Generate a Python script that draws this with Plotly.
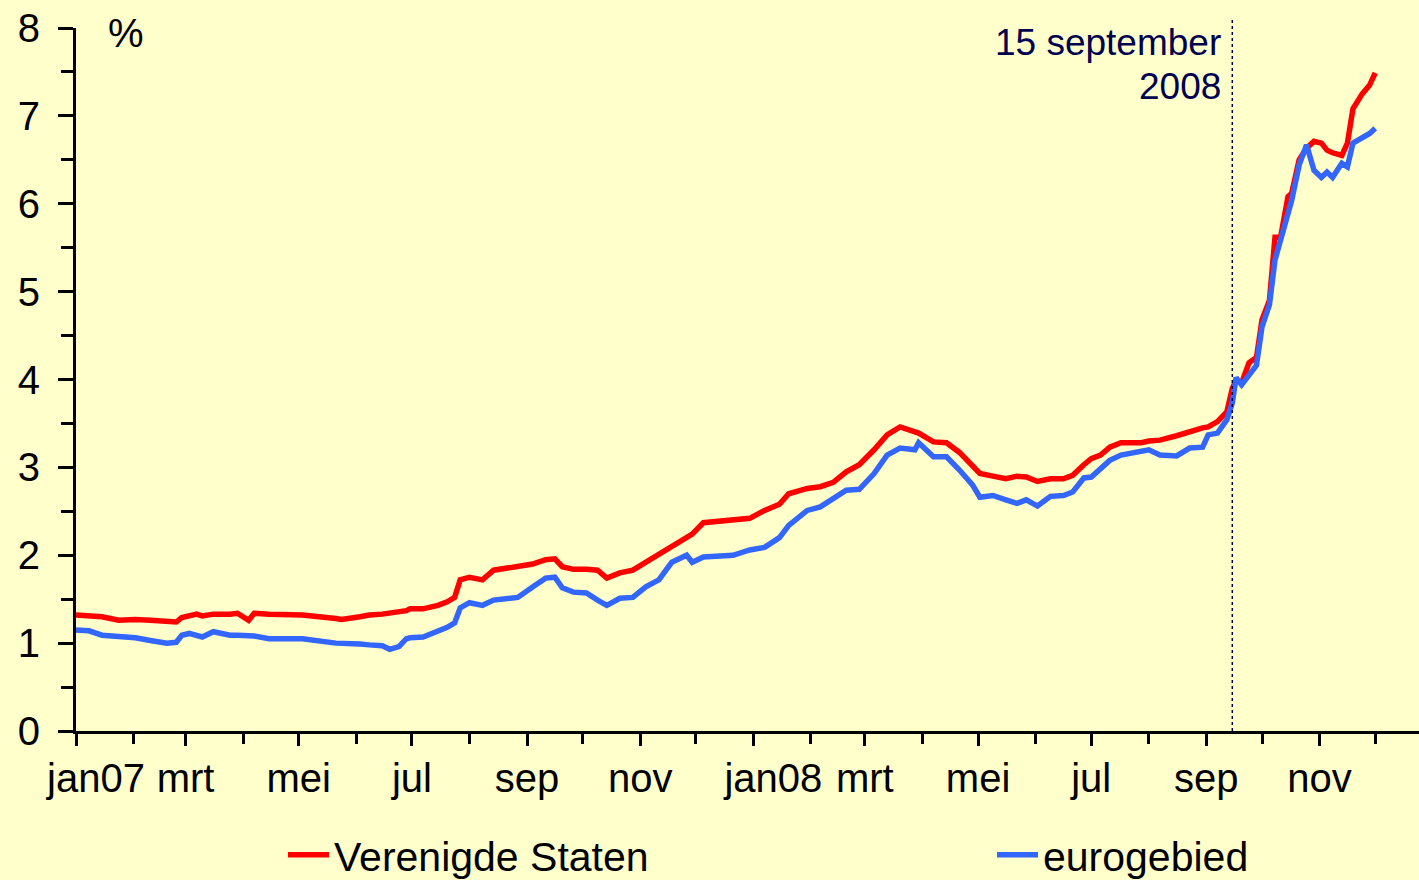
import plotly.graph_objects as go

dates = [
    "2007-01-01", "2007-01-08", "2007-01-15", "2007-01-24", "2007-02-02", "2007-02-10",
    "2007-02-19", "2007-02-24", "2007-02-27", "2007-03-03", "2007-03-07", "2007-03-10",
    "2007-03-16", "2007-03-25", "2007-03-29", "2007-04-04", "2007-04-07", "2007-04-15",
    "2007-05-03", "2007-05-21", "2007-05-24", "2007-06-03", "2007-06-08", "2007-06-15",
    "2007-06-19", "2007-06-24", "2007-06-28", "2007-06-30", "2007-07-07", "2007-07-15",
    "2007-07-20", "2007-07-24", "2007-07-27", "2007-08-01", "2007-08-08", "2007-08-14",
    "2007-08-27", "2007-09-04", "2007-09-11", "2007-09-16", "2007-09-20", "2007-09-26",
    "2007-10-03", "2007-10-09", "2007-10-14", "2007-10-21", "2007-10-28", "2007-11-04",
    "2007-11-11", "2007-11-18", "2007-11-26", "2007-11-29", "2007-12-05", "2007-12-21",
    "2007-12-30", "2008-01-07", "2008-01-15", "2008-01-20", "2008-01-30", "2008-02-06",
    "2008-02-13", "2008-02-20", "2008-02-27", "2008-03-06", "2008-03-13", "2008-03-20",
    "2008-03-28", "2008-03-30", "2008-04-07", "2008-04-14", "2008-04-21", "2008-04-28",
    "2008-05-02", "2008-05-09", "2008-05-16", "2008-05-22", "2008-05-27", "2008-06-02",
    "2008-06-09", "2008-06-16", "2008-06-21", "2008-06-27", "2008-07-01", "2008-07-06",
    "2008-07-11", "2008-07-17", "2008-07-22", "2008-07-28", "2008-08-01", "2008-08-07",
    "2008-08-16", "2008-08-23", "2008-08-30", "2008-09-02", "2008-09-07", "2008-09-12",
    "2008-09-15", "2008-09-17", "2008-09-20", "2008-09-24", "2008-09-28", "2008-10-01",
    "2008-10-05", "2008-10-08", "2008-10-11", "2008-10-15", "2008-10-17", "2008-10-21",
    "2008-10-25", "2008-10-29", "2008-11-02", "2008-11-05", "2008-11-08", "2008-11-13",
    "2008-11-16", "2008-11-19", "2008-11-24", "2008-11-28", "2008-12-01",
]

us_values = [
    1.32, 1.31, 1.30, 1.26, 1.27, 1.26,
    1.25, 1.24, 1.29, 1.31, 1.33, 1.31,
    1.33, 1.33, 1.34, 1.26, 1.34, 1.33,
    1.32, 1.28, 1.27, 1.30, 1.32, 1.33,
    1.34, 1.35, 1.37, 1.39, 1.39, 1.43,
    1.47, 1.52, 1.72, 1.75, 1.72, 1.83,
    1.87, 1.90, 1.95, 1.96, 1.87, 1.84,
    1.84, 1.83, 1.74, 1.80, 1.83, 1.92,
    2.00, 2.09, 2.20, 2.24, 2.37, 2.40,
    2.42, 2.51, 2.58, 2.70, 2.76, 2.78,
    2.83, 2.95, 3.03, 3.20, 3.37, 3.46,
    3.40, 3.39, 3.29, 3.28, 3.17, 3.03,
    2.93, 2.90, 2.87, 2.90, 2.89, 2.84,
    2.87, 2.87, 2.91, 3.03, 3.10, 3.14,
    3.23, 3.28, 3.28, 3.28, 3.30, 3.31,
    3.36, 3.41, 3.45, 3.46, 3.52, 3.63,
    3.90, 3.99, 3.96, 4.19, 4.25, 4.68,
    4.90, 5.62, 5.62, 6.08, 6.12, 6.50,
    6.63, 6.71, 6.69, 6.61, 6.58, 6.55,
    6.69, 7.08, 7.25, 7.35, 7.49,
]

ez_values = [
    1.15, 1.14, 1.09, 1.08, 1.06, 1.03,
    1.00, 1.01, 1.09, 1.11, 1.09, 1.07,
    1.13, 1.09, 1.09, 1.08, 1.08, 1.05,
    1.05, 1.00, 1.00, 0.99, 0.98, 0.97,
    0.93, 0.96, 1.05, 1.06, 1.07, 1.13,
    1.18, 1.23, 1.40, 1.46, 1.43, 1.49,
    1.52, 1.64, 1.74, 1.75, 1.63, 1.58,
    1.57, 1.49, 1.43, 1.51, 1.52, 1.64,
    1.72, 1.92, 2.00, 1.92, 1.98, 2.00,
    2.06, 2.09, 2.20, 2.34, 2.51, 2.55,
    2.65, 2.74, 2.75, 2.93, 3.14, 3.22,
    3.20, 3.28, 3.12, 3.12, 2.97, 2.80,
    2.66, 2.68, 2.63, 2.59, 2.63, 2.56,
    2.67, 2.68, 2.72, 2.88, 2.89, 2.99,
    3.08, 3.14, 3.16, 3.19, 3.20, 3.14,
    3.13, 3.22, 3.23, 3.37, 3.39, 3.54,
    3.73, 4.02, 3.94, 4.05, 4.16, 4.60,
    4.85, 5.36, 5.59, 5.93, 6.04, 6.44,
    6.67, 6.38, 6.30, 6.36, 6.30, 6.46,
    6.42, 6.69, 6.75, 6.80, 6.86,
]

series_names = ["Verenigde Staten", "eurogebied"]
series_colors = ["#FF0000", "#3366FF"]

# x tick labels (jan labels placed so that "jan" sits on the tick)
label_vals = ["2007-01-11 18:00", "2007-03-01", "2007-05-01", "2007-07-01", "2007-09-01",
              "2007-11-01", "2008-01-11 18:00", "2008-03-01", "2008-05-01", "2008-07-01",
              "2008-09-01", "2008-11-01"]
label_text = ["jan07", "mrt", "mei", "jul", "sep", "nov",
              "jan08", "mrt", "mei", "jul", "sep", "nov"]

event_date = "2008-09-15"
FONT = "Liberation Sans, Arial, sans-serif"
BG = "#FFFFCC"

fig = go.Figure()
fig.add_trace(go.Scatter(x=dates, y=us_values, mode="lines", name=series_names[0],
                         line=dict(color=series_colors[0], width=5.5), legend="legend"))
fig.add_trace(go.Scatter(x=dates, y=ez_values, mode="lines", name=series_names[1],
                         line=dict(color=series_colors[1], width=5.5), legend="legend2"))
# invisible trace to host the label axis
fig.add_trace(go.Scatter(x=[dates[0]], y=[None], xaxis="x2", showlegend=False,
                         hoverinfo="skip"))

xrange = ["2007-01-01", "2008-12-24 14:00"]

fig.update_layout(
    width=1419, height=880,
    paper_bgcolor=BG, plot_bgcolor=BG,
    margin=dict(l=76, r=0, t=28, b=149),
    font=dict(family=FONT, size=40, color="black"),
    xaxis=dict(
        type="date", range=xrange, showgrid=False, zeroline=False,
        showline=True, linecolor="black", linewidth=3,
        tick0="2007-01-01", dtick="M2", ticks="outside", ticklen=12, tickwidth=3,
        tickcolor="black", showticklabels=False,
        minor=dict(dtick="M1", ticks="outside", ticklen=10, tickwidth=3, tickcolor="black"),
    ),
    xaxis2=dict(
        type="date", overlaying="x", matches="x", side="bottom", anchor="y",
        range=xrange, showgrid=False, zeroline=False, showline=False, ticks="",
        tickmode="array", tickvals=label_vals, ticktext=label_text,
        tickfont=dict(family=FONT, size=40, color="black"), ticklabelstandoff=20,
    ),
    yaxis=dict(
        range=[0, 8], dtick=1, showgrid=False, zeroline=False,
        showline=True, linecolor="black", linewidth=3,
        ticks="outside", ticklen=15, tickwidth=3, tickcolor="black",
        tickfont=dict(family=FONT, size=40, color="black"), ticklabelstandoff=10,
        minor=dict(dtick=0.5, ticks="outside", ticklen=12, tickwidth=3, tickcolor="black"),
    ),
    legend=dict(x=(283 - 76) / 1343, xanchor="left", yref="container",
                y=1 - 855 / 880, yanchor="middle",
                orientation="h", bgcolor="rgba(0,0,0,0)", itemwidth=41,
                font=dict(family=FONT, size=41, color="black")),
    legend2=dict(x=(992 - 76) / 1343, xanchor="left", yref="container",
                 y=1 - 855 / 880, yanchor="middle",
                 orientation="h", bgcolor="rgba(0,0,0,0)", itemwidth=41,
                 font=dict(family=FONT, size=41, color="black")),
    showlegend=True,
)

fig.add_shape(type="line", x0=event_date, x1=event_date, y0=0, y1=1.014,
              xref="x", yref="paper", line=dict(color="#000050", width=1.5, dash="dot"))

fig.add_annotation(x="2007-01-28", y=7.94, xref="x", yref="y", text="%", showarrow=False,
                   font=dict(family=FONT, size=40, color="black"))
fig.add_annotation(x="2008-09-10", y=7.83, xref="x", yref="y", text="15 september",
                   showarrow=False, xanchor="right",
                   font=dict(family=FONT, size=37, color="#000050"))
fig.add_annotation(x="2008-09-10", y=7.33, xref="x", yref="y", text="2008",
                   showarrow=False, xanchor="right",
                   font=dict(family=FONT, size=37, color="#000050"))

fig.write_html(
    "out.html",
    config={"displayModeBar": False},
    post_script="document.body.style.margin='0';document.body.style.overflow='hidden';",
)
